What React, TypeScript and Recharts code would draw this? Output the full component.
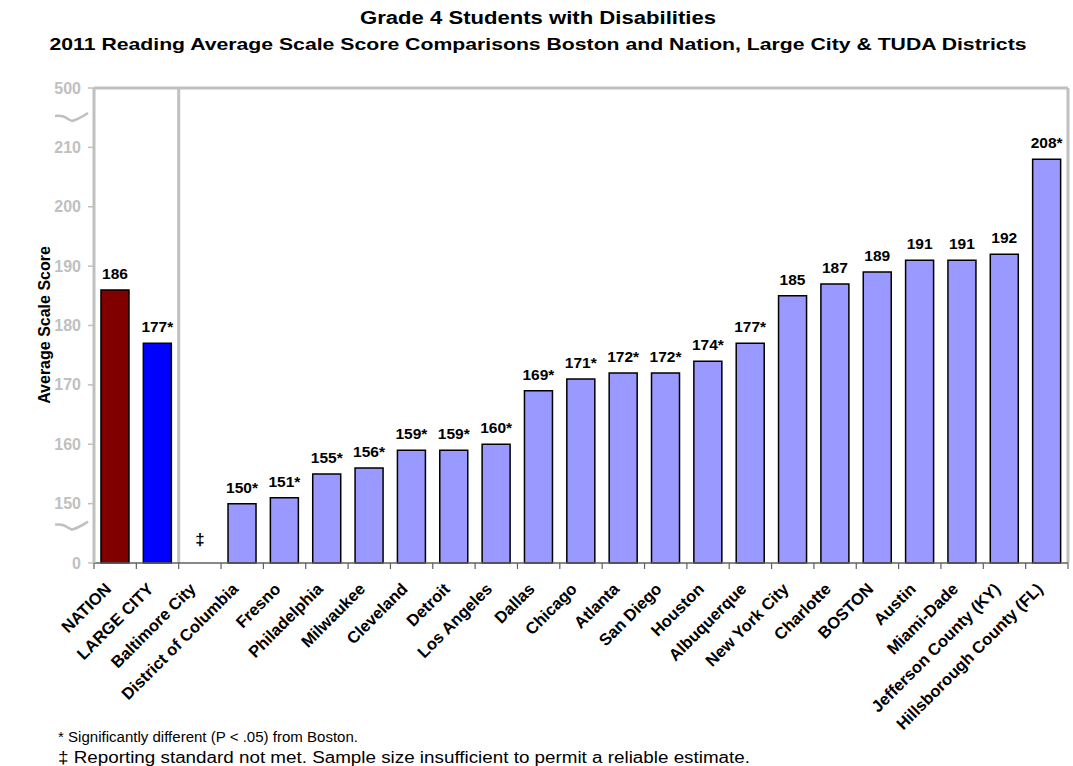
import React from 'react';
import { BarChart, Bar, XAxis, YAxis, Cell, LabelList, ReferenceLine, ReferenceDot } from 'recharts';

const districts = [
  'NATION', 'LARGE CITY', 'Baltimore City', 'District of Columbia', 'Fresno', 'Philadelphia',
  'Milwaukee', 'Cleveland', 'Detroit', 'Los Angeles', 'Dallas', 'Chicago', 'Atlanta',
  'San Diego', 'Houston', 'Albuquerque', 'New York City', 'Charlotte', 'BOSTON', 'Austin',
  'Miami-Dade', 'Jefferson County (KY)', 'Hillsborough County (FL)',
];
const scores: (number | null)[] = [
  186, 177, null, 150, 151, 155, 156, 159, 159, 160, 169, 171, 172, 172, 174, 177, 185, 187, 189, 191, 191, 192, 208,
];
const significant = [
  false, true, false, true, true, true, true, true, true, true, true, true, true, true, true, true,
  false, false, false, false, false, false, true,
];
const notReported = ['Baltimore City'];
const yTickLabels = [0, 150, 160, 170, 180, 190, 200, 210, 500];

const FONT = '"Liberation Sans", Arial, Helvetica, sans-serif';
const GRAY = '#c0c0c0';

// broken axis: 0 | 150..210 | 500
const toAxis = (v: number) => (v === 0 ? 0 : v >= 500 ? 80 : v - 140);

const data = districts.map((name, i) => ({
  name,
  plot: scores[i] == null ? null : toAxis(scores[i] as number),
  labelText: scores[i] == null ? '' : `${scores[i]}${significant[i] ? '*' : ''}`,
}));

const barColor = (name: string) =>
  name === 'NATION' ? '#800000' : name === 'LARGE CITY' ? '#0000ff' : '#9999ff';

const yTicks = yTickLabels.map(toAxis);
const yLabelFor = (pos: number) => {
  const i = yTicks.indexOf(pos);
  return i >= 0 ? String(yTickLabels[i]) : '';
};

const Squiggle = ({ x, y }: { x: number; y: number }) => (
  <path
    d={`M${x},${y - 1} Q${x + 8},${y - 2} ${x + 13},${y + 2} L${x + 17},${y + 4} Q${x + 24},${y + 2} ${x + 33},${y - 4}`}
    fill="none"
    stroke={GRAY}
    strokeWidth={2.5}
  />
);

const YTick = (props: any) => {
  const { x, y, payload } = props;
  const label = yLabelFor(payload.value);
  return (
    <g>
      <text x={x} y={y} dy={5.5} textAnchor="end" fill={GRAY} fontSize={16} fontWeight="bold" fontFamily={FONT}>
        {label}
      </text>
      {label === '500' && <Squiggle x={x - 26} y={y + 29} />}
      {label === '150' && <Squiggle x={x - 26} y={y + 22} />}
    </g>
  );
};

const XTick = (props: any) => {
  const { x, y, payload, index } = props;
  const off = payload.offset ?? 21.2;
  const ax = x - 3;
  const ay = y + 27;
  return (
    <g>
      <line x1={x - off} x2={x - off} y1={y} y2={y + 6} stroke="#606060" strokeWidth={1.2} />
      {index === districts.length - 1 && (
        <line x1={x + off} x2={x + off} y1={y} y2={y + 6} stroke="#606060" strokeWidth={1.2} />
      )}
      <text
        x={ax}
        y={ay}
        transform={`rotate(-45, ${ax}, ${ay})`}
        textAnchor="end"
        fontSize={16.5}
        fontWeight="bold"
        fontFamily={FONT}
        fill="#000"
      >
        {payload.value}
      </text>
    </g>
  );
};

const ValueLabel = (props: any) => {
  const { x, y, width, value } = props;
  if (!value) return null;
  return (
    <text x={x + width / 2} y={y - 11} textAnchor="middle" fontSize={15.5} fontWeight="bold" fontFamily={FONT} fill="#000">
      {value}
    </text>
  );
};

export default function App() {
  return (
    <div style={{ position: 'absolute', left: 0, top: 0, width: 1073, height: 766, background: '#fff' }}>
      <BarChart
        width={1073}
        height={766}
        data={data}
        margin={{ top: 88, right: 5, left: 0, bottom: 0 }}
        barCategoryGap="16.5%"
      >
        <ReferenceLine y={80} stroke={GRAY} strokeWidth={3} ifOverflow="visible" />
        <ReferenceLine x="Baltimore City" position="start" stroke={GRAY} strokeWidth={3} />
        <ReferenceLine x="Hillsborough County (FL)" position="end" stroke={GRAY} strokeWidth={3} />
        <XAxis
          dataKey="name"
          interval={0}
          height={203}
          tickLine={false}
          tickSize={0}
          tickMargin={0}
          axisLine={{ stroke: '#606060', strokeWidth: 1.5 }}
          tick={<XTick />}
        />
        <YAxis
          type="number"
          domain={[0, 80]}
          ticks={yTicks}
          width={94}
          interval={0}
          tickSize={6}
          tickMargin={7}
          tickLine={{ stroke: GRAY, strokeWidth: 1.5 }}
          axisLine={{ stroke: GRAY, strokeWidth: 3 }}
          tick={<YTick />}
        />
        <Bar dataKey="plot" stroke="#000" strokeWidth={1.5} isAnimationActive={false}>
          {data.map((d) => (
            <Cell key={d.name} fill={barColor(d.name)} />
          ))}
          <LabelList dataKey="labelText" content={<ValueLabel />} />
        </Bar>
        {notReported.map((n) => (
          <ReferenceDot
            key={n}
            x={n}
            y={3}
            r={0}
            ifOverflow="visible"
            shape={(p: any) => (
              <text x={p.cx} y={p.cy} textAnchor="middle" fontSize={17} fontWeight="bold" fontFamily={FONT} fill="#000">
                ‡
              </text>
            )}
          />
        ))}
      </BarChart>
      <svg
        width={1073}
        height={766}
        style={{ position: 'absolute', left: 0, top: 0, pointerEvents: 'none' }}
      >
        <text x={538} y={24} textAnchor="middle" fontSize={18} fontWeight="bold" fontFamily={FONT} textLength={356} lengthAdjust="spacingAndGlyphs">
          Grade 4 Students with Disabilities
        </text>
        <text x={538} y={50} textAnchor="middle" fontSize={17} fontWeight="bold" fontFamily={FONT} textLength={977} lengthAdjust="spacingAndGlyphs">
          2011 Reading Average Scale Score Comparisons Boston and Nation, Large City &amp; TUDA Districts
        </text>
        <text
          x={50}
          y={325}
          transform="rotate(-90, 50, 325)"
          textAnchor="middle"
          fontSize={16}
          fontWeight="bold"
          fontFamily={FONT}
        >
          Average Scale Score
        </text>
        <text x={58} y={742} fontSize={15.5} fontFamily={FONT} textLength={300} lengthAdjust="spacingAndGlyphs">
          * Significantly different (P &lt; .05) from Boston.
        </text>
        <text x={58} y={763} fontSize={16} fontFamily={FONT} textLength={692} lengthAdjust="spacingAndGlyphs">
          ‡ Reporting standard not met. Sample size insufficient to permit a reliable estimate.
        </text>
      </svg>
    </div>
  );
}
